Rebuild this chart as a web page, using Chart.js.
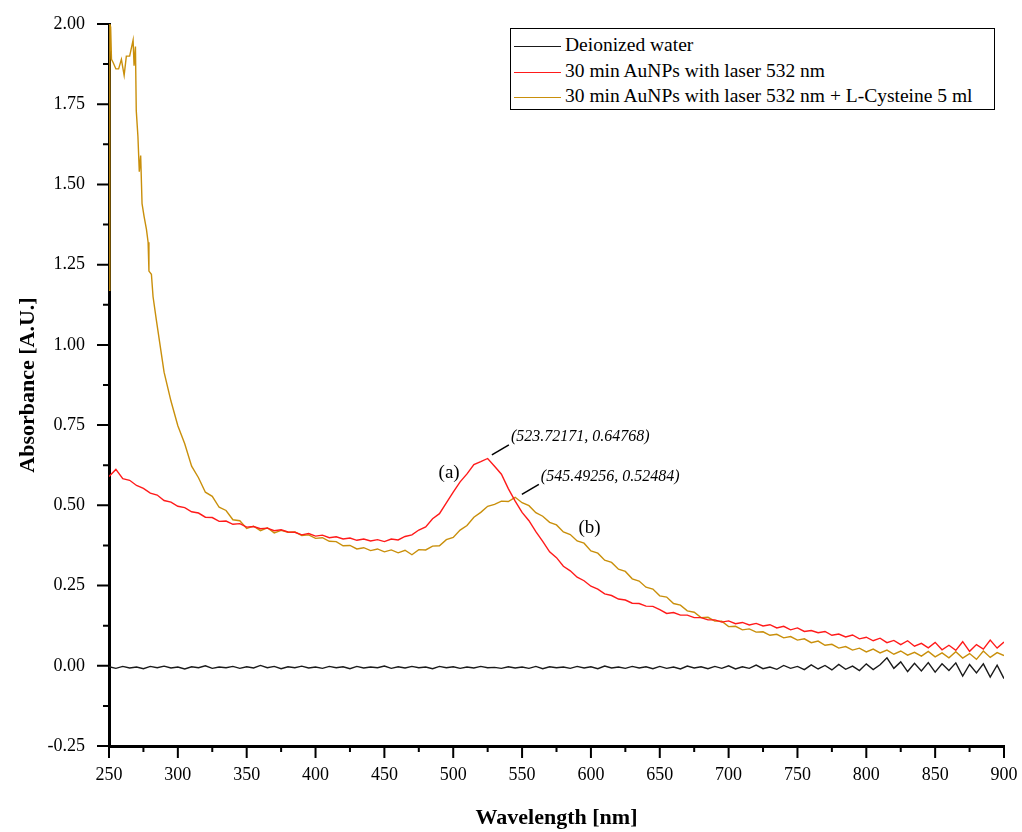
<!DOCTYPE html>
<html lang="en">
<head>
  <meta charset="UTF-8" />
  <title>Absorbance spectra</title>
  <script src="https://cdn.jsdelivr.net/npm/chart.js"></script>
  <style>
    body { margin: 0; background: #fff; }
    #wrap { position: relative; width: 1022px; height: 832px; }
    #legend {
      position: absolute; left: 510px; top: 28px; width: 485px; height: 82px;
      border: 1.5px solid #000; background: #fff;
      font-family: "Liberation Serif", "Times New Roman", serif; font-size: 19.5px; color: #000;
      padding-top: 3px; box-sizing: border-box;
    }
    #legend div { height: 25.5px; line-height: 25.5px; white-space: nowrap; }
    #legend span.ln { display: inline-block; width: 47px; margin: 0 4px 0 3px; vertical-align: middle; }
  </style>
</head>
<body>
<div id="wrap">
  <canvas id="spectra" width="1022" height="832"></canvas>
  <div id="legend"></div>
</div>

<script>
// data -------------------------------------------------------
const labels = ['Deionized water', '30 min AuNPs with laser 532 nm', '30 min AuNPs with laser 532 nm + L-Cysteine 5 ml'];
const colors = ['#1a1a1a', '#ff1a1a', '#c98f0b'];

// 5 nm grid, 250 .. 900
const nm = [];
for (let w = 250; w <= 900; w += 5) nm.push(w);

const water = [
  -0.003, -0.008, -0.002, -0.007, -0.004, -0.009, -0.002, -0.006, -0.001, -0.007,   // 250-295
  -0.004, -0.010, -0.003, -0.006,  0.000, -0.008, -0.004, -0.006, -0.002, -0.008,   // 300-345
  -0.003, -0.007,  0.001, -0.006, -0.002, -0.009, -0.003, -0.006, -0.001, -0.007,   // 350-395
  -0.004, -0.008, -0.002, -0.006, -0.003, -0.009, -0.002, -0.007, -0.004, -0.006,   // 400-445
  -0.001, -0.008, -0.003, -0.007, -0.002, -0.006, -0.004, -0.009, -0.002, -0.006,   // 450-495
  -0.003, -0.008, -0.004, -0.007, -0.002, -0.006, -0.005, -0.008, -0.003, -0.007,   // 500-545
  -0.004, -0.008, -0.002, -0.009, -0.003, -0.006, -0.004, -0.008, -0.002, -0.007,   // 550-595
  -0.003, -0.009, -0.001, -0.007, -0.004, -0.008, -0.002, -0.007, -0.003, -0.009,   // 600-645
  -0.002, -0.008, -0.004, -0.010, -0.001, -0.007, -0.003, -0.009, -0.002, -0.008,   // 650-695
   0.000, -0.010, -0.003, -0.008,  0.002, -0.009, -0.004, -0.011,  0.001, -0.008,   // 700-745
  -0.002, -0.012,  0.003, -0.010,  0.001, -0.013,  0.004, -0.011, -0.001, -0.015,   // 750-795
   0.006, -0.012,  0.003,  0.025, -0.008,  0.012, -0.018,  0.008, -0.016,  0.010,   // 800-845
  -0.020,  0.006, -0.015,  0.009, -0.032,  0.004, -0.022,  0.006, -0.035,  0.002,   // 850-895
  -0.040                                                                            // 900
];

const aunps = [
  0.590, 0.612, 0.583, 0.578, 0.562, 0.553, 0.538, 0.532, 0.515, 0.510,   // 250-295
  0.497, 0.493, 0.480, 0.476, 0.463, 0.462, 0.450, 0.451, 0.441, 0.443,   // 300-345
  0.432, 0.434, 0.427, 0.429, 0.421, 0.424, 0.417, 0.416, 0.408, 0.412,   // 350-395
  0.404, 0.407, 0.399, 0.402, 0.395, 0.398, 0.391, 0.395, 0.389, 0.393,   // 400-445
  0.387, 0.395, 0.392, 0.403, 0.408, 0.423, 0.433, 0.458, 0.474, 0.508,   // 450-495
  0.541, 0.573, 0.598, 0.627, 0.636, 0.646, 0.622, 0.597, 0.552, 0.513,   // 500-545
  0.478, 0.452, 0.418, 0.388, 0.355, 0.337, 0.310, 0.296, 0.276, 0.265,   // 550-595
  0.248, 0.239, 0.224, 0.219, 0.208, 0.205, 0.195, 0.194, 0.186, 0.185,   // 600-645
  0.175, 0.163, 0.166, 0.158, 0.158, 0.150, 0.150, 0.143, 0.143, 0.136,   // 650-695
  0.140, 0.131, 0.135, 0.127, 0.132, 0.124, 0.128, 0.118, 0.123, 0.112,   // 700-745
  0.118, 0.107, 0.110, 0.103, 0.107, 0.095, 0.099, 0.090, 0.096, 0.084,   // 750-795
  0.089, 0.078, 0.086, 0.072, 0.079, 0.066, 0.078, 0.061, 0.070, 0.056,   // 800-845
  0.073, 0.050, 0.064, 0.048, 0.075, 0.045, 0.066, 0.052, 0.080, 0.055,   // 850-895
  0.074                                                                   // 900
];

// L-Cysteine curve: finer steps at the start, then the 5 nm grid from 290
const cysHeadNm = [250, 250.6, 251.2, 251.8, 253, 255, 257, 259, 261, 262.6, 265, 267.5, 268.2, 269.2,
                   269.8, 271, 272, 273, 274, 275.5, 277.2, 278.4, 279, 280.8, 282, 284.4];
const cysHead   = [1.17, 2.00, 1.99, 1.89, 1.88, 1.86, 1.86, 1.89, 1.84, 1.90, 1.90, 1.95, 1.87, 1.93,
                   1.73, 1.65, 1.54, 1.59, 1.44, 1.40, 1.36, 1.32, 1.23, 1.22, 1.15, 1.077];
const cysTail = [
  0.915, 0.825,                                                           // 290-295
  0.748, 0.692, 0.622, 0.586, 0.541, 0.528, 0.494, 0.484, 0.455, 0.452,   // 300-345
  0.428, 0.435, 0.421, 0.430, 0.414, 0.422, 0.416, 0.417, 0.406, 0.408,   // 350-395
  0.397, 0.399, 0.388, 0.387, 0.374, 0.375, 0.364, 0.368, 0.359, 0.364,   // 400-445
  0.355, 0.361, 0.352, 0.360, 0.346, 0.362, 0.361, 0.373, 0.374, 0.393,   // 450-495
  0.400, 0.423, 0.437, 0.463, 0.478, 0.497, 0.503, 0.513, 0.512, 0.525,   // 500-545
  0.508, 0.499, 0.477, 0.466, 0.447, 0.439, 0.417, 0.409, 0.389, 0.382,   // 550-595
  0.358, 0.351, 0.329, 0.322, 0.301, 0.294, 0.271, 0.264, 0.245, 0.239,   // 600-645
  0.218, 0.214, 0.194, 0.189, 0.171, 0.167, 0.150, 0.151, 0.139, 0.139,   // 650-695
  0.122, 0.123, 0.112, 0.115, 0.105, 0.106, 0.095, 0.098, 0.087, 0.091,   // 700-745
  0.080, 0.084, 0.072, 0.077, 0.064, 0.067, 0.055, 0.060, 0.049, 0.055,   // 750-795
  0.043, 0.052, 0.040, 0.049, 0.036, 0.046, 0.033, 0.042, 0.030, 0.045,   // 800-845
  0.028, 0.040, 0.025, 0.044, 0.024, 0.038, 0.020, 0.046, 0.026, 0.041,   // 850-895
  0.032                                                                   // 900
];
const cysNm = cysHeadNm.concat(nm.filter(w => w >= 290));
const cys   = cysHead.concat(cysTail);

// peak annotations
const peaks = [
  { x: 523.72171, y: 0.64768, text: '(523.72171, 0.64768)' },
  { x: 545.49256, y: 0.52484, text: '(545.49256, 0.52484)' }
];
const curveTags = [
  { x: 497, y: 0.600, text: '(a)' },
  { x: 599, y: 0.428, text: '(b)' }
];

// helpers ----------------------------------------------------
const serif = '"Liberation Serif", "Times New Roman", serif';
const pts = (xs, ys) => xs.map((x, i) => ({ x, y: ys[i] }));
const isMajor = (v, step) => Math.abs(v / step - Math.round(v / step)) < 1e-6;

// outward major / minor tick marks
const tickMarks = {
  id: 'tickMarks',
  afterDraw(chart) {
    const { ctx, chartArea: a, scales: { x, y } } = chart;
    ctx.save();
    ctx.strokeStyle = '#000';
    ctx.lineWidth = 2;
    ctx.beginPath();
    x.ticks.forEach(t => {
      const px = x.getPixelForValue(t.value);
      const len = isMajor(t.value, 50) ? 12 : 6;
      ctx.moveTo(px, a.bottom); ctx.lineTo(px, a.bottom + len);
    });
    y.ticks.forEach(t => {
      const py = y.getPixelForValue(t.value);
      const len = isMajor(t.value, 0.25) ? 12 : 6;
      ctx.moveTo(a.left, py); ctx.lineTo(a.left - len, py);
    });
    ctx.stroke();
    ctx.restore();
  }
};

// peak labels with leader lines, plus (a)/(b)
const peakLabels = {
  id: 'peakLabels',
  afterDatasetsDraw(chart) {
    const { ctx, scales: { x, y } } = chart;
    ctx.save();
    ctx.fillStyle = '#000';
    ctx.strokeStyle = '#000';
    ctx.lineWidth = 1.5;
    ctx.font = 'italic 16px ' + serif;
    ctx.textBaseline = 'middle';
    peaks.forEach(p => {
      const px = x.getPixelForValue(p.x), py = y.getPixelForValue(p.y);
      ctx.beginPath();
      ctx.moveTo(px + 6, py - 3);
      ctx.lineTo(px + 23, py - 13);
      ctx.stroke();
      ctx.fillText(p.text, px + 25, py - 21);
    });
    ctx.font = '19px ' + serif;
    ctx.textAlign = 'center';
    curveTags.forEach(t => ctx.fillText(t.text, x.getPixelForValue(t.x), y.getPixelForValue(t.y)));
    ctx.restore();
  }
};

// invisible tick room (real marks come from tickMarks)
const hiddenGrid = len => ({ display: true, drawOnChartArea: false, drawTicks: true, tickLength: len, tickColor: 'rgba(0,0,0,0)' });

// chart ------------------------------------------------------
const series = [pts(nm, water), pts(nm, aunps), pts(cysNm, cys)];

new Chart(document.getElementById('spectra'), {
  type: 'line',
  data: {
    datasets: series.map((d, i) => ({
      label: labels[i], data: d, borderColor: colors[i], borderWidth: 1.4,
      pointRadius: 0, tension: 0, fill: false
    }))
  },
  options: {
    responsive: false,
    animation: false,
    layout: { padding: { top: 24, right: 18, left: 0, bottom: 0 } },
    plugins: { legend: { display: false }, tooltip: { enabled: false } },
    scales: {
      x: {
        type: 'linear', min: 250, max: 900,
        afterFit: s => { s.height = 86; },
        grid: hiddenGrid(14),
        border: { display: true, width: 3, color: '#000' },
        ticks: {
          stepSize: 25, autoSkip: false, maxRotation: 0, padding: 4,
          color: '#000', font: { family: serif, size: 18 },
          callback: v => isMajor(v, 50) ? String(v) : ''
        },
        title: {
          display: true, text: 'Wavelength [nm]', color: '#000',
          font: { family: serif, size: 22, weight: 'bold' }, padding: { top: 0, bottom: 0 }
        }
      },
      y: {
        min: -0.25, max: 2.0,
        afterFit: s => { s.width = 109; },
        grid: hiddenGrid(12),
        border: { display: true, width: 3, color: '#000' },
        ticks: {
          stepSize: 0.125, autoSkip: false, padding: 12,
          color: '#000', font: { family: serif, size: 18 },
          callback: v => isMajor(v, 0.25) ? v.toFixed(2) : ''
        },
        title: {
          display: true, text: 'Absorbance [A.U.]', color: '#000',
          font: { family: serif, size: 22, weight: 'bold' }, padding: { top: 15, bottom: 0 }
        }
      }
    }
  },
  plugins: [tickMarks, peakLabels]
});

// legend box -------------------------------------------------
document.getElementById('legend').innerHTML = labels.map((l, i) =>
  `<div><span class="ln" style="border-top:1.5px solid ${colors[i]}"></span>${l}</div>`
).join('');
</script>
</body>
</html>
